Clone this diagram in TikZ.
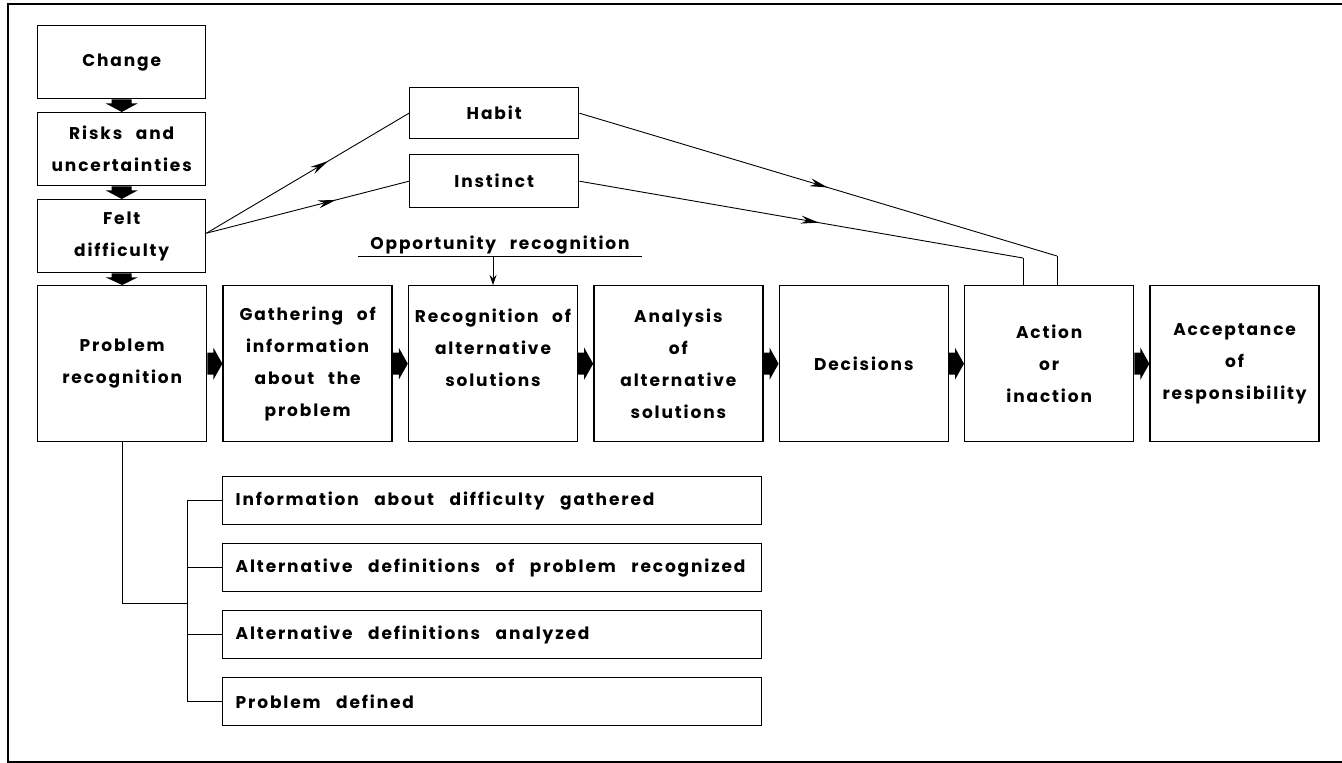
\documentclass[tikz,border=0pt]{standalone}
\usepackage{fontspec}
\setmainfont{Poppins}[LetterSpace=11,WordSpace=2.5]
\usetikzlibrary{calc,arrows.meta,decorations.markings}
\newcommand{\varrow}[2]{\fill ($(#1.south)+(-10,0)$) -- ($(#1.south)+(10,0)$) -- ($(#1.south)+(10,4)$) -- ($(#1.south)+(16,4)$) -- (#2.north) -- ($(#1.south)+(-16,4)$) -- ($(#1.south)+(-10,4)$) -- cycle;}
\newcommand{\harrow}[2]{\fill ($(#1.east)+(0,-11)$) -- ($(#1.east)+(6,-11)$) -- ($(#1.east)+(6,-16)$) -- (#2.west) -- ($(#1.east)+(6,16)$) -- ($(#1.east)+(6,11)$) -- ($(#1.east)+(0,11)$) -- cycle;}
\begin{document}
\begin{tikzpicture}[x=1pt,y=-1pt,
  txt/.style={font=\fontsize{17}{32}\selectfont\bfseries},
  box/.style={draw,line width=1.4pt,inner sep=0pt,align=center,anchor=north west,txt},
  sbox/.style={box,minimum width=168,minimum height=73},
  mbox/.style={box,minimum width=169,minimum height=156},
  lbox/.style={draw,line width=1.4pt,anchor=north west,inner xsep=13pt,inner ysep=0pt,text width=513pt,align=left,minimum height=48,txt,execute at begin node={\spaceskip=15.5pt\relax}},
  conn/.style={line width=0.9pt},
  midarr/.style={conn,postaction={decorate},decoration={markings,mark=at position #1 with {\arrow{Stealth[length=18pt,width=8pt]}}}}
]
\useasboundingbox (0,0) rectangle (1342,763);
% frame
\coordinate (f1) at (1342,4);
\coordinate (f2) at (8,4);
\coordinate (f3) at (8,762);
\coordinate (f4) at (1342,762);
\draw[line width=1.8pt] (f1) -- (f2) -- (f3) -- (f4);

% left column
\node[sbox] (change) at (37,25) {Change};
\node[sbox] (risks) at (37,112) {Risks and\\uncertainties};
\node[sbox] (felt) at (37,199) {Felt\\difficulty};

% habit / instinct
\node[box,minimum width=169,minimum height=51] (habit) at (409,87) {Habit};
\node[box,minimum width=169,minimum height=53] (instinct) at (409,154) {Instinct};

% main row
\node[mbox] (prob) at (37,285) {Problem\\recognition};
\node[mbox] (gath) at (222.4,285) {Gathering of\\information\\about the\\problem};
\node[mbox] (recog) at (407.8,285) {Recognition of\\alternative\\solutions\\\phantom{x}};
\node[mbox] (anal) at (593.2,285) {Analysis\\of\\alternative\\solutions};
\node[mbox] (dec) at (778.6,285) {Decisions};
\node[mbox] (act) at (964,285) {Action\\or\\inaction};
\node[mbox] (acc) at (1149.4,285) {Acceptance\\of\\responsibility};

% block arrows
\varrow{change}{risks}
\varrow{risks}{felt}
\varrow{felt}{prob}
\harrow{prob}{gath}
\harrow{gath}{recog}
\harrow{recog}{anal}
\harrow{anal}{dec}
\harrow{dec}{act}
\harrow{act}{acc}

% felt -> habit / instinct
\coordinate (fd) at ($(felt.east)+(0,-3)$);
\draw[midarr=0.6] (fd) -- (habit.west);
\draw[midarr=0.64] (fd) -- (instinct.west);

% habit / instinct -> action
\coordinate (hb) at (1057,256);
\coordinate (ib) at (1023,258);
\draw[midarr=0.52] (habit.east) -- (hb);
\draw[conn] (hb) -- (hb |- act.north);
\draw[midarr=0.54] (instinct.east) -- (ib);
\draw[conn] (ib) -- (ib |- act.north);

% opportunity recognition
\node[anchor=south,inner xsep=0pt,inner ysep=2pt,minimum width=284,txt] (opp) at (500,256) {Opportunity recognition};
\draw[conn] (opp.south west) -- (opp.south east);
\draw[conn,-{Stealth[length=10pt,width=7pt]}] (recog.north |- opp.south) -- (recog.north);

% list boxes
\node[lbox] (l1) at (222,476) {Information about difficulty gathered};
\node[lbox] (l2) at (222,543) {Alternative definitions of problem recognized};
\node[lbox] (l3) at (222,610) {Alternative definitions analyzed};
\node[lbox] (l4) at (222,677) {Problem defined};

% bracket
\coordinate (bj) at (187,603);
\draw[conn] (prob.south) -- (prob.south |- bj) -- (bj);
\draw[conn] (l1.west -| bj) -- (l4.west -| bj);
\draw[conn] (l1.west -| bj) -- (l1.west);
\draw[conn] (l2.west -| bj) -- (l2.west);
\draw[conn] (l3.west -| bj) -- (l3.west);
\draw[conn] (l4.west -| bj) -- (l4.west);
\end{tikzpicture}
\end{document}
